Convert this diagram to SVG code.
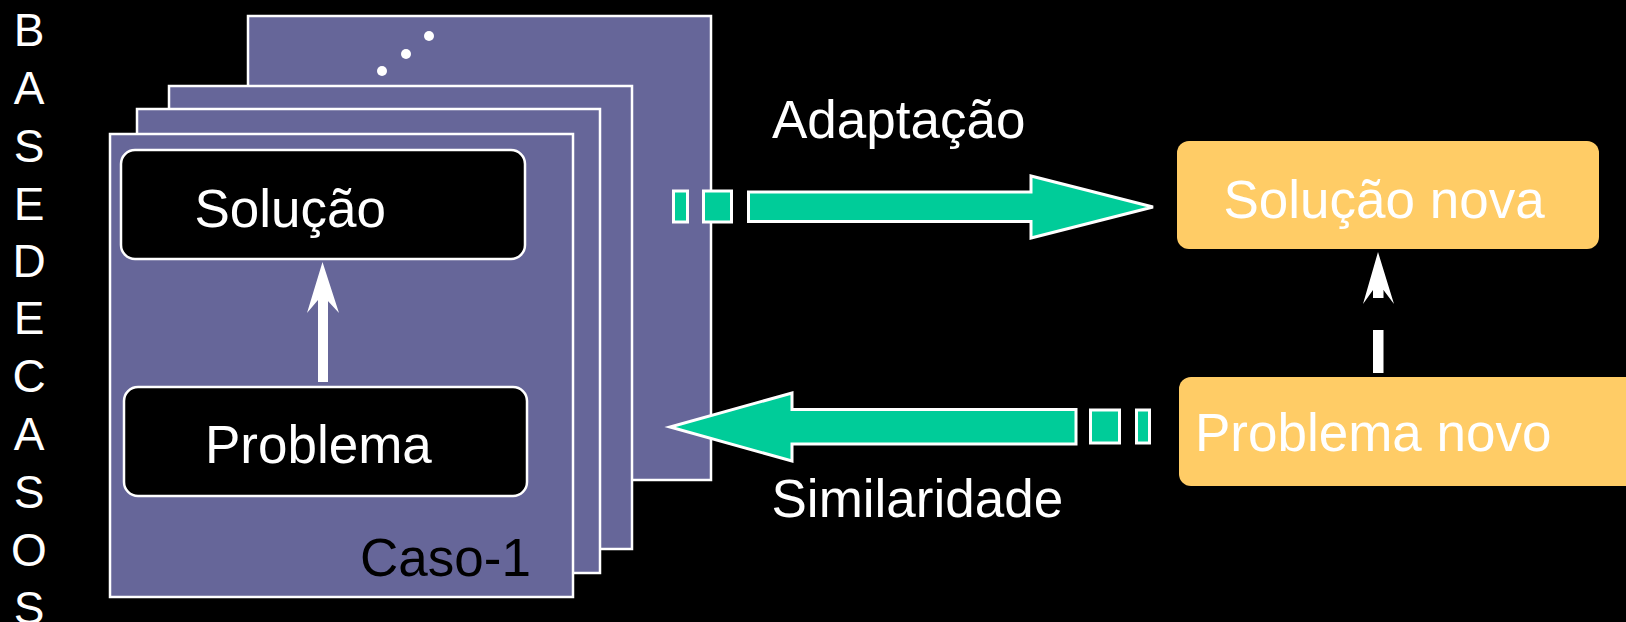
<svg xmlns="http://www.w3.org/2000/svg" width="1626" height="622" viewBox="0 0 1626 622">
  <style>
    .plate { fill: #666699; stroke: #ffffff; stroke-width: 2.5; }
    .inner { fill: #000000; stroke: #ffffff; stroke-width: 2.5; }
    .newbox { fill: #ffcc66; }
    .flow { fill: #00cc99; stroke: #ffffff; stroke-width: 3; stroke-linejoin: miter; }
    .wtxt { font-family: "Liberation Sans", Arial, sans-serif; font-size: 53px; fill: #ffffff; }
    .btxt { font-family: "Liberation Sans", Arial, sans-serif; font-size: 53px; fill: #000000; }
    .side { font-family: "Liberation Sans", Arial, sans-serif; font-size: 46px; fill: #ffffff; text-anchor: middle; }
  </style>
  <rect x="0" y="0" width="1626" height="622" fill="#000000"/>

  <!-- vertical title -->
  <g id="title">
    <text class="side" x="29" y="46">B</text>
    <text class="side" x="29" y="104">A</text>
    <text class="side" x="29" y="162">S</text>
    <text class="side" x="29" y="220">E</text>
    <text class="side" x="29" y="277">D</text>
    <text class="side" x="29" y="334">E</text>
    <text class="side" x="29" y="392">C</text>
    <text class="side" x="29" y="450">A</text>
    <text class="side" x="29" y="508">S</text>
    <text class="side" x="29" y="566">O</text>
    <text class="side" x="29" y="624">S</text>
  </g>

  <!-- stack of case cards, back to front -->
  <g id="case-n">
    <rect class="plate" x="248" y="16" width="463" height="464"/>
    <circle cx="429" cy="36" r="5" fill="#ffffff"/>
    <circle cx="406" cy="54" r="5" fill="#ffffff"/>
    <circle cx="382" cy="71" r="5" fill="#ffffff"/>
  </g>
  <g id="case-3">
    <rect class="plate" x="169" y="86" width="463" height="463"/>
  </g>
  <g id="case-2">
    <rect class="plate" x="137" y="109" width="463" height="464"/>
  </g>
  <g id="case-1">
    <rect class="plate" x="110" y="134" width="463" height="463"/>
    <text class="btxt" x="360" y="576">Caso-1</text>
  </g>
  <g id="solucao">
    <rect class="inner" x="121" y="150" width="404" height="109" rx="14" ry="14"/>
    <text class="wtxt" x="194.5" y="227">Solução</text>
  </g>
  <g id="problema">
    <rect class="inner" x="124" y="387" width="403" height="109" rx="14" ry="14"/>
    <text class="wtxt" x="205" y="463">Problema</text>
  </g>

  <!-- new case -->
  <g id="solucao-nova">
    <rect class="newbox" x="1177" y="141" width="422" height="108" rx="12" ry="12"/>
    <text class="wtxt" x="1223.5" y="218">Solução nova</text>
  </g>
  <g id="problema-novo">
    <rect class="newbox" x="1179" y="377" width="470" height="109" rx="12" ry="12"/>
    <text class="wtxt" x="1195" y="451">Problema novo</text>
  </g>

  <!-- connectors -->
  <g id="connectors">
    <!-- problema -> solucao inside the case -->
    <rect x="318" y="298" width="10" height="84" fill="#ffffff"/>
    <polygon points="322.5,262 339,313 327,300 318,300 307,313" fill="#ffffff"/>

    <!-- problema novo -> solucao nova (dashed) -->
    <rect x="1373" y="330" width="10.5" height="43" fill="#ffffff"/>
    <rect x="1373" y="288" width="10.5" height="10" fill="#ffffff"/>
    <polygon points="1378,252 1394,304 1383.5,290 1373,290 1363,304" fill="#ffffff"/>

    <!-- adaptacao arrow -->
    <rect class="flow" x="673.5" y="191" width="14" height="31"/>
    <rect class="flow" x="703.5" y="191" width="28" height="31"/>
    <polygon class="flow" points="748.5,192 1031,192 1031,176 1153,207 1031,238 1031,221.5 748.5,221.5"/>
    <text class="wtxt" x="772" y="138">Adaptação</text>

    <!-- similaridade arrow -->
    <polygon class="flow" points="1076,409.5 792,409.5 792,393 670,427 792,461 792,444 1076,444"/>
    <rect class="flow" x="1090.5" y="410" width="29" height="33"/>
    <rect class="flow" x="1136.5" y="410" width="13" height="33"/>
    <text class="wtxt" x="771.5" y="517">Similaridade</text>
  </g>
</svg>
